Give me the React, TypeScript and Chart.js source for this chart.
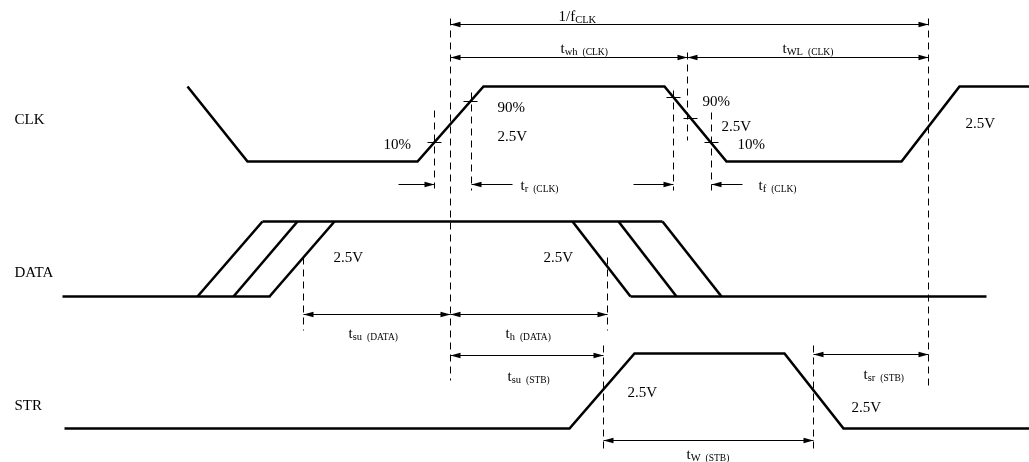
import React, { useEffect, useRef } from "react";
import { Chart, registerables } from "chart.js";

Chart.register(...registerables);

// ---- Waveforms (x: time axis units, y: vertical diagram units, top = 0) ----
const CLK_X = [187, 247, 417, 483, 664, 726, 901, 959, 1029];
const CLK_Y = [86, 161, 161, 86, 86, 161, 161, 86, 86];

const DATA_LOW_LEFT_X = [62, 270];
const DATA_HIGH_X = [262, 662];
const DATA_LOW_RIGHT_X = [630, 986];
const DATA_HIGH = 221;
const DATA_LOW = 296;
const DATA_RISE_START = [197, 233, 269];
const DATA_RISE_END = [262, 297, 334];
const DATA_FALL_START = [572, 618, 662];
const DATA_FALL_END = [630, 676, 721];

const STR_X = [64, 569, 634, 784, 843, 1029];
const STR_Y = [428, 428, 353, 353, 428, 428];

// ---- Dashed guide lines ----
const GUIDE_X = [450, 687, 928, 434, 471, 673, 711, 303, 607, 603, 813];
const GUIDE_TOP = [18, 52, 18, 110, 92, 90, 112, 257, 257, 345, 345];
const GUIDE_BOTTOM = [380, 140, 387, 188, 190, 190, 190, 330, 330, 448, 448];

// ---- Threshold tick marks on CLK edges ----
const TICK_X = [434, 470, 673, 690, 711];
const TICK_Y = [142, 101, 97, 118, 142];
const TICK_HALF = 7;

// ---- Dimension arrows ----
const ARROW_FROM = [450, 450, 687, 398, 471, 633, 711, 303, 450, 450, 813, 603];
const ARROW_TO = [928, 687, 928, 434, 512, 673, 742, 450, 607, 603, 928, 813];
const ARROW_Y = [24, 57, 57, 184, 184, 184, 184, 314, 314, 355, 354, 440];
// "both" | "end" (head at ARROW_TO) | "start" (head at ARROW_FROM)
const ARROW_HEADS = ["both", "both", "both", "end", "start", "end", "start", "both", "both", "both", "both", "both"];

// ---- Text labels ----
const LABEL_MAIN = ["1/f", "t", "t", "CLK", "10%", "90%", "2.5V", "90%", "2.5V", "10%", "2.5V", "t", "t",
  "DATA", "2.5V", "2.5V", "t", "t", "STR", "t", "2.5V", "t", "2.5V", "t"];
const LABEL_SUB = ["CLK", "wh", "WL", "", "", "", "", "", "", "", "", "r", "f",
  "", "", "", "su", "h", "", "su", "", "sr", "", "W"];
const LABEL_TAIL = ["", "(CLK)", "(CLK)", "", "", "", "", "", "", "", "", "(CLK)", "(CLK)",
  "", "", "", "(DATA)", "(DATA)", "", "(STB)", "", "(STB)", "", "(STB)"];
const LABEL_X = [558, 560, 782, 14, 383, 497, 497, 702, 721, 737, 965, 520, 758,
  14, 333, 543, 348, 505, 14, 507, 627, 863, 851, 686];
const LABEL_Y = [15, 47, 47, 118, 143, 106, 135, 100, 125, 143, 122, 184, 184,
  271, 256, 256, 332, 332, 404, 375, 391, 373, 406, 453];

const FONT = '"Liberation Serif", "DejaVu Serif", serif';

const pts = (xs: number[], ys: number[]) => xs.map((x, i) => ({ x, y: ys[i] }));

export default function App() {
  const ref = useRef<HTMLCanvasElement | null>(null);

  useEffect(() => {
    if (!ref.current) return;
    const wave = { borderColor: "#000", borderWidth: 2.6, pointRadius: 0, showLine: true, fill: false, tension: 0 } as any;
    const thin = { borderColor: "#000", borderWidth: 1, pointRadius: 0, showLine: true, fill: false, tension: 0 } as any;

    const datasets: any[] = [];
    datasets.push({ ...wave, data: pts(CLK_X, CLK_Y) });
    datasets.push({ ...wave, data: DATA_LOW_LEFT_X.map((x) => ({ x, y: DATA_LOW })) });
    datasets.push({ ...wave, data: DATA_HIGH_X.map((x) => ({ x, y: DATA_HIGH })) });
    datasets.push({ ...wave, data: DATA_LOW_RIGHT_X.map((x) => ({ x, y: DATA_LOW })) });
    DATA_RISE_START.forEach((x, i) =>
      datasets.push({ ...wave, data: [{ x, y: DATA_LOW }, { x: DATA_RISE_END[i], y: DATA_HIGH }] })
    );
    DATA_FALL_START.forEach((x, i) =>
      datasets.push({ ...wave, data: [{ x, y: DATA_HIGH }, { x: DATA_FALL_END[i], y: DATA_LOW }] })
    );
    datasets.push({ ...wave, data: pts(STR_X, STR_Y) });

    GUIDE_X.forEach((x, i) =>
      datasets.push({ ...thin, borderDash: [7, 5], data: [{ x, y: GUIDE_TOP[i] }, { x, y: GUIDE_BOTTOM[i] }] })
    );
    TICK_X.forEach((x, i) =>
      datasets.push({ ...thin, data: [{ x: x - TICK_HALF, y: TICK_Y[i] }, { x: x + TICK_HALF, y: TICK_Y[i] }] })
    );
    ARROW_FROM.forEach((x, i) =>
      datasets.push({ ...thin, data: [{ x, y: ARROW_Y[i] }, { x: ARROW_TO[i], y: ARROW_Y[i] }] })
    );

    const overlay = {
      id: "overlay",
      afterDatasetsDraw(chart: any) {
        const ctx = chart.ctx as CanvasRenderingContext2D;
        const xs = chart.scales.x;
        const ys = chart.scales.y;
        ctx.save();
        ctx.fillStyle = "#000";
        const head = (px: number, py: number, dir: number) => {
          const L = 10, H = 2.8;
          ctx.beginPath();
          ctx.moveTo(px, py);
          ctx.lineTo(px - dir * L, py - H);
          ctx.lineTo(px - dir * L, py + H);
          ctx.closePath();
          ctx.fill();
        };
        ARROW_FROM.forEach((x0, i) => {
          const a = xs.getPixelForValue(x0);
          const b = xs.getPixelForValue(ARROW_TO[i]);
          const py = ys.getPixelForValue(ARROW_Y[i]);
          const kind = ARROW_HEADS[i];
          if (kind === "both" || kind === "end") head(b, py, 1);
          if (kind === "both" || kind === "start") head(a, py, -1);
        });
        ctx.textBaseline = "alphabetic";
        ctx.textAlign = "left";
        LABEL_MAIN.forEach((txt, i) => {
          let px = xs.getPixelForValue(LABEL_X[i]);
          const base = ys.getPixelForValue(LABEL_Y[i]) + 5;
          ctx.font = `15px ${FONT}`;
          ctx.fillText(txt, px, base);
          px += ctx.measureText(txt).width;
          if (LABEL_SUB[i]) {
            ctx.font = `10.5px ${FONT}`;
            ctx.fillText(LABEL_SUB[i], px, base + 2.5);
            px += ctx.measureText(LABEL_SUB[i]).width;
          }
          if (LABEL_TAIL[i]) {
            ctx.font = `9.5px ${FONT}`;
            px += 5;
            ctx.fillText(LABEL_TAIL[i], px, base + 2.5);
          }
        });
        ctx.restore();
      },
    };

    const chart = new Chart(ref.current, {
      type: "scatter",
      data: { datasets },
      options: {
        animation: false,
        responsive: false,
        maintainAspectRatio: false,
        layout: { padding: 0 },
        plugins: { legend: { display: false }, tooltip: { enabled: false } },
        events: [],
        scales: {
          x: { type: "linear", min: -0.5, max: 1028.5, display: false },
          y: { type: "linear", min: -0.5, max: 461.5, reverse: true, display: false },
        },
      },
      plugins: [overlay],
    });
    return () => chart.destroy();
  }, []);

  return (
    <div style={{ position: "fixed", left: 0, top: 0, width: 1029, height: 462, background: "#fff" }}>
      <canvas ref={ref} width={1029} height={462} style={{ width: 1029, height: 462 }} />
    </div>
  );
}
